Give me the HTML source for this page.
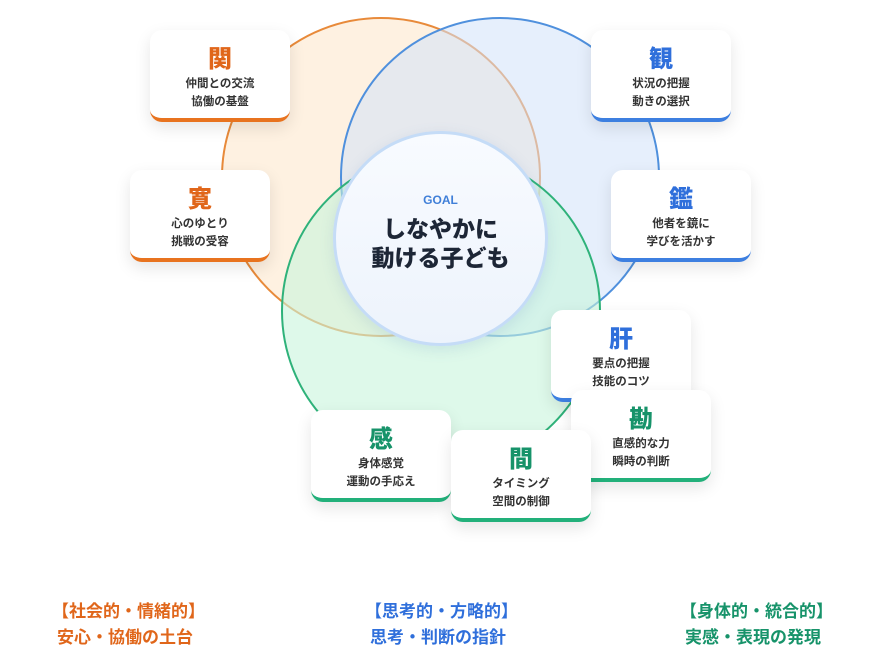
<!DOCTYPE html>
<html><head><meta charset="utf-8"><style>
body{margin:0;width:872px;height:668px;background:#fff;position:relative;overflow:hidden;font-family:"Liberation Sans","Noto Sans CJK JP",sans-serif;}
.c{position:absolute;border-radius:50%;box-sizing:border-box;}
.card{position:absolute;width:140px;height:92px;background:#fff;border-radius:12px;box-shadow:0 6px 16px rgba(0,0,0,0.10);text-align:center;box-sizing:border-box;}
.card b{display:block;font-size:24px;font-weight:900;margin-top:15px;line-height:30px;}
.card span{display:block;font-size:11.5px;color:#333;font-weight:700;line-height:18px;}
.o{border-bottom:4px solid #e8731f}.o b{color:#e0661a}
.bl{border-bottom:4px solid #3d7fe0}.bl b{color:#2f6fdb}
.g{border-bottom:4px solid #22b07a}.g b{color:#17936a}
.ft{position:absolute;font-size:17px;font-weight:700;line-height:26px;}
</style></head><body>
<div class="c" style="left:221px;top:17px;width:320px;height:320px;border:2px solid #e88a3a;background:rgba(253,232,205,0.6)"></div>
<div class="c" style="left:340px;top:17px;width:320px;height:320px;border:2px solid #4f90dd;background:rgba(210,226,250,0.55)"></div>
<div class="c" style="left:281px;top:151px;width:320px;height:320px;border:2px solid #2fb27a;background:rgba(200,245,220,0.6)"></div>
<div class="c" style="left:333px;top:131px;width:215px;height:215px;border:3px solid #c5dcf7;background:linear-gradient(#f8fbff,#edf3fc);box-shadow:0 4px 14px rgba(80,120,180,0.15);text-align:center">
<div style="margin-top:59px;font-size:12px;font-weight:700;color:#3f7fd8">GOAL</div>
<div style="margin-top:8px;font-size:23px;font-weight:900;color:#1d2636;line-height:29px">しなやかに<br>動ける子ども</div>
</div>
<div class="card o" style="left:150px;top:30px"><b>関</b><span>仲間との交流</span><span>協働の基盤</span></div>
<div class="card o" style="left:130px;top:170px"><b>寛</b><span>心のゆとり</span><span>挑戦の受容</span></div>
<div class="card bl" style="left:591px;top:30px"><b>観</b><span>状況の把握</span><span>動きの選択</span></div>
<div class="card bl" style="left:611px;top:170px"><b>鑑</b><span>他者を鏡に</span><span>学びを活かす</span></div>
<div class="card bl" style="left:551px;top:310px"><b>肝</b><span>要点の把握</span><span>技能のコツ</span></div>
<div class="card g" style="left:571px;top:390px"><b>勘</b><span>直感的な力</span><span>瞬時の判断</span></div>
<div class="card g" style="left:311px;top:410px"><b>感</b><span>身体感覚</span><span>運動の手応え</span></div>
<div class="card g" style="left:451px;top:430px"><b>間</b><span>タイミング</span><span>空間の制御</span></div>
<div class="ft" style="left:52px;top:599px;color:#e0661a">【社会的・情緒的】<br><span style="padding-left:5px">安心・協働の土台</span></div>
<div class="ft" style="left:365px;top:599px;color:#2f6fdb">【思考的・方略的】<br><span style="padding-left:5px">思考・判断の指針</span></div>
<div class="ft" style="left:680px;top:599px;color:#17936a">【身体的・統合的】<br><span style="padding-left:5px">実感・表現の発現</span></div>
</body></html>
